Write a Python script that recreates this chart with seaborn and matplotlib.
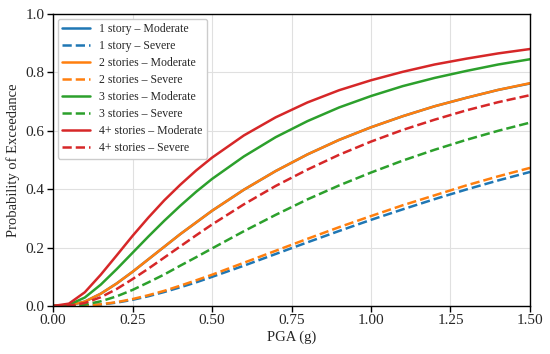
import matplotlib
matplotlib.use("Agg")
import matplotlib.pyplot as plt
import seaborn as sns
import pandas as pd

pga = [0.0, 0.05, 0.10, 0.15, 0.20, 0.25, 0.30, 0.35, 0.40, 0.45, 0.50,
       0.60, 0.70, 0.80, 0.90, 1.00, 1.10, 1.20, 1.30, 1.40, 1.50]

# exceedance probabilities
one_moderate = [0.0, 0.0019, 0.015, 0.042, 0.077, 0.117, 0.160, 0.203, 0.246, 0.286, 0.326,
                0.398, 0.462, 0.519, 0.569, 0.612, 0.650, 0.684, 0.713, 0.740, 0.762]
one_severe = [0.0, 0.0001, 0.0013, 0.005, 0.0116, 0.0212, 0.0335, 0.048, 0.064, 0.081, 0.0997,
              0.138, 0.178, 0.218, 0.257, 0.295, 0.331, 0.366, 0.399, 0.430, 0.459]
two_moderate = [0.0, 0.0019, 0.015, 0.042, 0.077, 0.117, 0.160, 0.203, 0.246, 0.286, 0.326,
                0.398, 0.462, 0.519, 0.569, 0.612, 0.650, 0.684, 0.713, 0.740, 0.763]
two_severe = [0.0, 0.0001, 0.0015, 0.0057, 0.0131, 0.0237, 0.0369, 0.052, 0.0695, 0.088, 0.107,
              0.148, 0.189, 0.230, 0.270, 0.308, 0.345, 0.379, 0.413, 0.444, 0.473]
three_moderate = [0.0, 0.0041, 0.029, 0.073, 0.126, 0.182, 0.238, 0.292, 0.343, 0.391, 0.435,
                  0.512, 0.578, 0.633, 0.680, 0.719, 0.753, 0.781, 0.805, 0.827, 0.845]
three_severe = [0.0, 0.0004, 0.0049, 0.016, 0.033, 0.055, 0.081, 0.108, 0.138, 0.167, 0.197,
                0.256, 0.312, 0.365, 0.413, 0.457, 0.498, 0.535, 0.569, 0.600, 0.628]
four_moderate = [0.0, 0.0081, 0.047, 0.107, 0.173, 0.240, 0.303, 0.362, 0.415, 0.464, 0.508,
                 0.584, 0.646, 0.697, 0.739, 0.773, 0.802, 0.827, 0.847, 0.865, 0.880]
four_severe = [0.0, 0.0011, 0.0103, 0.030, 0.058, 0.092, 0.128, 0.166, 0.204, 0.242, 0.279,
               0.348, 0.411, 0.467, 0.518, 0.563, 0.603, 0.638, 0.670, 0.698, 0.722]

labels = ["1 story \u2013 Moderate", "1 story \u2013 Severe",
          "2 stories \u2013 Moderate", "2 stories \u2013 Severe",
          "3 stories \u2013 Moderate", "3 stories \u2013 Severe",
          "4+ stories \u2013 Moderate", "4+ stories \u2013 Severe"]
series = [one_moderate, one_severe, two_moderate, two_severe,
          three_moderate, three_severe, four_moderate, four_severe]
colors = ["#1f77b4", "#1f77b4", "#ff7f0e", "#ff7f0e",
          "#2ca02c", "#2ca02c", "#d62728", "#d62728"]

sns.set_style("whitegrid", {"axes.edgecolor": "black", "grid.color": "#e0e0e0",
                            "xtick.bottom": True, "ytick.left": True})
plt.rcParams["font.family"] = ["Liberation Serif", "DejaVu Serif"]

fig = plt.figure(figsize=(5.5, 3.54), dpi=100)
ax = fig.add_axes([0.0964, 0.1356, 0.8672, 0.8249])

for i in range(len(series)):
    df = pd.DataFrame({"pga": pga, "prob": series[i]})
    ls = "-" if i % 2 == 0 else "--"
    sns.lineplot(data=df, x="pga", y="prob", ax=ax, color=colors[i],
                 linestyle=ls, linewidth=1.8, label=labels[i])

ax.set_xlim(0, 1.5)
ax.set_ylim(0, 1.0)
ax.set_xticks([0.0, 0.25, 0.5, 0.75, 1.0, 1.25, 1.5])
ax.set_xticklabels(["0.00", "0.25", "0.50", "0.75", "1.00", "1.25", "1.50"])
ax.set_yticks([0.0, 0.2, 0.4, 0.6, 0.8, 1.0])
ax.set_yticklabels(["0.0", "0.2", "0.4", "0.6", "0.8", "1.0"])
ax.tick_params(axis="both", labelsize=11, length=4, width=1, color="black", pad=2)
ax.set_xlabel("PGA (g)", fontsize=10.5, labelpad=2)
ax.set_ylabel("Probability of Exceedance", fontsize=10.5, labelpad=4)
for sp in ax.spines.values():
    sp.set_linewidth(1.0)
    sp.set_color("black")
ax.grid(True, linewidth=0.8)

ax.legend(loc="upper left", fontsize=8.5, frameon=True, edgecolor="#cccccc",
          framealpha=1.0, borderaxespad=0.4, handlelength=2.3, labelspacing=0.42)

fig.savefig("out.png", dpi=100)
